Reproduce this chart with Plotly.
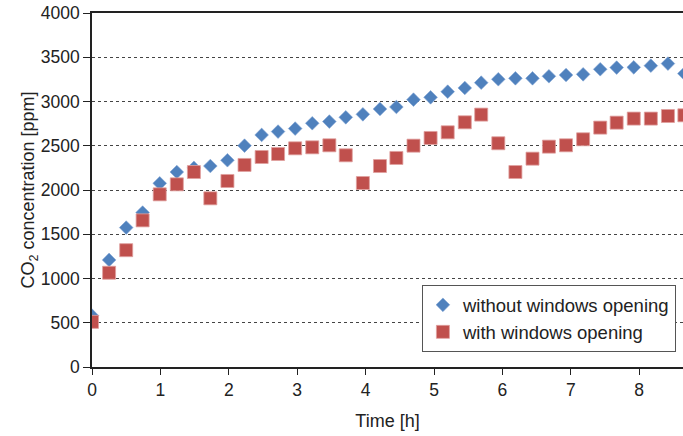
import plotly.graph_objects as go

time_h = [0.0, 0.25, 0.5, 0.74, 0.99, 1.24, 1.49, 1.73, 1.98, 2.23, 2.48, 2.72,
          2.97, 3.22, 3.47, 3.71, 3.96, 4.21, 4.45, 4.70, 4.95, 5.20, 5.45, 5.69,
          5.94, 6.19, 6.44, 6.68, 6.93, 7.18, 7.43, 7.67, 7.92, 8.17, 8.42, 8.66]

without_opening = [580, 1210, 1575, 1745, 2075, 2203, 2250, 2271, 2336, 2501, 2622, 2660,
                   2694, 2754, 2773, 2821, 2855, 2915, 2938, 3021, 3047, 3111, 3153, 3213,
                   3251, 3262, 3262, 3285, 3299, 3307, 3364, 3383, 3386, 3405, 3428, 3315]

with_opening = [510, 1065, 1320, 1657, 1951, 2064, 2203, 1906, 2102, 2283, 2373, 2407,
                2471, 2482, 2505, 2392, 2079, 2271, 2362, 2501, 2588, 2652, 2765, 2852,
                2528, 2203, 2354, 2490, 2505, 2573, 2705, 2761, 2807, 2807, 2836, 2844]

y_ticks = [0, 500, 1000, 1500, 2000, 2500, 3000, 3500, 4000]
x_ticks = [0, 1, 2, 3, 4, 5, 6, 7, 8]

FONT = "Liberation Sans, Arial, sans-serif"
FS = 17.5

fig = go.Figure()
fig.add_trace(go.Scatter(
    x=time_h, y=without_opening, mode="markers", name="without windows opening",
    marker=dict(symbol="diamond", size=10.5, color="#4F81BD",
                line=dict(width=0.6, color="#7FA3D3")),
))
fig.add_trace(go.Scatter(
    x=time_h, y=with_opening, mode="markers", name="with windows opening",
    marker=dict(symbol="square", size=13, color="#C0504D",
                line=dict(width=0.8, color="#E0A09E")),
))

fig.update_layout(
    width=683, height=436,
    margin=dict(l=92, r=0, t=13, b=69, autoexpand=False),
    paper_bgcolor="white", plot_bgcolor="white",
    font=dict(family=FONT, size=FS, color="#222222"),
    showlegend=True,
    legend=dict(
        x=0.988, y=0.2308, xanchor="right", yanchor="top",
        bgcolor="white", bordercolor="#555555", borderwidth=1,
        font=dict(family=FONT, size=18.5, color="#222222"),
        tracegroupgap=0,
    ),
)

fig.update_xaxes(
    range=[0, 8.64], tickvals=x_ticks, ticktext=[str(v) for v in x_ticks],
    showgrid=False, zeroline=False, automargin=False,
    showline=True, linecolor="#222222", linewidth=1.5, mirror=True,
    ticks="outside", ticklen=6, tickcolor="#222222", tickwidth=1.2,
    tickfont=dict(size=FS, color="#222222"),
    title=dict(text="Time [h]", font=dict(size=18, color="#222222"), standoff=16),
)
fig.update_yaxes(
    range=[0, 4000], tickvals=y_ticks, ticktext=[str(v) for v in y_ticks],
    showgrid=True, gridcolor="#444444", gridwidth=1, griddash="dot",
    zeroline=False, automargin=False,
    showline=True, linecolor="#222222", linewidth=1.5,
    ticks="outside", ticklen=7, tickcolor="#222222", tickwidth=1.2,
    tickfont=dict(size=FS, color="#222222"),
    title=dict(text="CO<sub>2</sub> concentration [ppm]", font=dict(size=18, color="#222222"), standoff=0),
)

fig.write_html("out.html", config={"displayModeBar": False},
               post_script="document.body.style.margin='0';")
